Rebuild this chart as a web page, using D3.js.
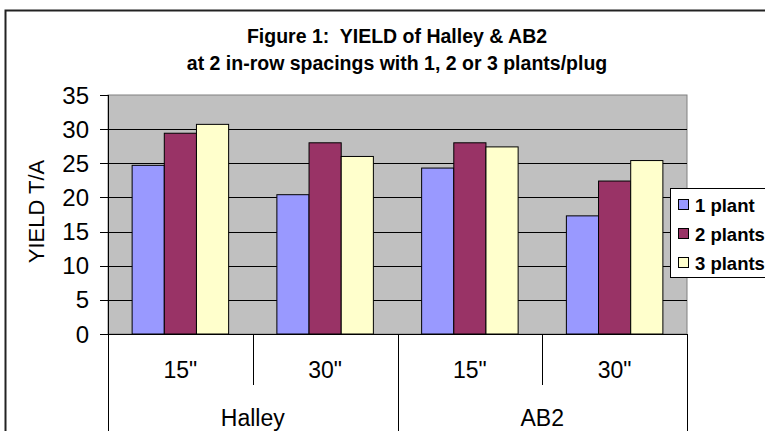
<!DOCTYPE html>
<html>
<head>
  <meta charset="utf-8">
  <title>Figure 1: YIELD of Halley & AB2</title>
  <script src="https://cdn.jsdelivr.net/npm/d3@7"></script>
  <style type="text/css">
  html, body {
    margin: 0;
    padding: 0;
    background-color: #fff;
  }
  svg text {
    font-family: "Liberation Sans", Arial, sans-serif;
    fill: #000;
  }
  .title {
    font-size: 19.5px;
    font-weight: bold;
    text-anchor: middle;
  }
  .plotarea {
    fill: #c0c0c0;
    stroke: #808080;
    stroke-width: 1px;
  }
  .grid {
    stroke: #000;
    stroke-width: 1px;
  }
  .axisline {
    stroke: #000;
    stroke-width: 1px;
  }
  .bar {
    stroke: #000;
    stroke-width: 1px;
  }
  .tick-label {
    font-size: 24px;
    text-anchor: end;
  }
  .cat-label {
    font-size: 23px;
    text-anchor: middle;
  }
  .legend-label {
    font-size: 18.5px;
    font-weight: bold;
  }
  </style>
</head>

<body>
  <div id='chart'></div>
</body>

<script>
var width = 765,
    height = 431;

// chart data
var groups = ["Halley", "AB2"];
var spacings = ['15"', '30"'];
var series = ["1 plant", "2 plants", "3 plants"];
var plant1 = [24.7, 20.4, 24.3, 17.3];
var plant2 = [29.4, 28.0, 28.0, 22.4];
var plant3 = [30.7, 26.0, 27.4, 25.4];
var yTicks = [0, 5, 10, 15, 20, 25, 30, 35];
var colors = ["#9999ff", "#993366", "#ffffcc"];

var values = [plant1, plant2, plant3];

// one entry per bar cluster: group x spacing
var cats = [];
groups.forEach(function(g) {
  spacings.forEach(function(s) {
    cats.push({group: g, spacing: s, key: g + "|" + s});
  });
});

var plot = {left: 108, right: 687, top: 95, bottom: 334};

var svg = d3.select("#chart").append("svg")
            .attr("width", width)
            .attr("height", height);

// outer frame of the chart object (runs off the right and bottom)
svg.append("rect")
   .attr("x", 5.5)
   .attr("y", 10.5)
   .attr("width", 900)
   .attr("height", 600)
   .attr("fill", "#fff")
   .attr("stroke", "#222")
   .attr("stroke-width", 2);

svg.append("text")
   .attr("class", "title")
   .attr("x", 397)
   .attr("y", 43)
   .text("Figure 1:\u00a0 YIELD of Halley & AB2");

svg.append("text")
   .attr("class", "title")
   .attr("x", 397)
   .attr("y", 70)
   .text("at 2 in-row spacings with 1, 2 or 3 plants/plug");

var x = d3.scaleBand()
          .domain(cats.map(function(d) { return d.key; }))
          .range([plot.left, plot.right])
          .paddingInner(0)
          .paddingOuter(0);

var xs = d3.scaleBand()
           .domain(series)
           .range([0, x.bandwidth()])
           .paddingInner(0)
           .paddingOuter(0.75);

var y = d3.scaleLinear()
          .domain([0, 35])
          .range([plot.bottom, plot.top]);

svg.append("rect")
   .attr("class", "plotarea")
   .attr("x", plot.left)
   .attr("y", y(35))
   .attr("width", plot.right - plot.left)
   .attr("height", y(0) - y(35));

// gridlines (top one is the plot border)
svg.append("g").selectAll("line")
   .data(yTicks.filter(function(t) { return t > 0 && t < 35; }))
   .enter().append("line")
   .attr("class", "grid")
   .attr("x1", plot.left)
   .attr("x2", plot.right)
   .attr("y1", function(d) { return Math.round(y(d)) + 0.5; })
   .attr("y2", function(d) { return Math.round(y(d)) + 0.5; });

// bars
var clusters = svg.append("g").selectAll("g")
   .data(cats)
   .enter().append("g")
   .attr("transform", function(d) { return "translate(" + x(d.key) + ",0)"; });

clusters.selectAll("rect")
   .data(function(d, i) {
     return series.map(function(s, j) {
       return {series: s, value: values[j][i], color: colors[j]};
     });
   })
   .enter().append("rect")
   .attr("class", "bar")
   .attr("x", function(d) { return xs(d.series); })
   .attr("y", function(d) { return y(d.value); })
   .attr("width", xs.bandwidth())
   .attr("height", function(d) { return y(0) - y(d.value); })
   .attr("fill", function(d) { return d.color; });

// value axis
var yAxis = svg.append("g");
yAxis.append("line")
     .attr("class", "axisline")
     .attr("x1", plot.left + 0.5)
     .attr("x2", plot.left + 0.5)
     .attr("y1", plot.top)
     .attr("y2", height);
yAxis.selectAll(".tick")
     .data(yTicks)
     .enter().append("line")
     .attr("class", "axisline")
     .attr("x1", plot.left - 8)
     .attr("x2", plot.left)
     .attr("y1", function(d) { return Math.round(y(d)) + 0.5; })
     .attr("y2", function(d) { return Math.round(y(d)) + 0.5; });
yAxis.selectAll("text")
     .data(yTicks)
     .enter().append("text")
     .attr("class", "tick-label")
     .attr("x", 89)
     .attr("y", function(d) { return y(d); })
     .attr("dy", "0.36em")
     .text(function(d) { return d; });

svg.append("text")
   .attr("class", "cat-label")
   .attr("transform", "translate(44," + ((plot.top + plot.bottom) / 2 - 3) + ") rotate(-90)")
   .style("font-size", "22px")
   .text("YIELD T/A");

// category axis: spacing row then variety row
var catAxis = svg.append("g");
catAxis.append("line")
       .attr("class", "axisline")
       .attr("x1", plot.left - 8)
       .attr("x2", plot.right)
       .attr("y1", plot.bottom + 0.5)
       .attr("y2", plot.bottom + 0.5);

catAxis.selectAll(".sub-div")
       .data(cats.filter(function(d, i) { return i % 2 === 1; }))
       .enter().append("line")
       .attr("class", "axisline")
       .attr("x1", function(d) { return Math.round(x(d.key)) + 0.5; })
       .attr("x2", function(d) { return Math.round(x(d.key)) + 0.5; })
       .attr("y1", plot.bottom)
       .attr("y2", 385);

var groupEdges = [plot.left].concat(groups.map(function(g, i) {
  return x(cats[i * 2 + 1].key) + x.bandwidth();
}));
catAxis.selectAll(".grp-div")
       .data(groupEdges.slice(1))
       .enter().append("line")
       .attr("class", "axisline")
       .attr("x1", function(d) { return Math.round(d) + 0.5; })
       .attr("x2", function(d) { return Math.round(d) + 0.5; })
       .attr("y1", plot.bottom)
       .attr("y2", height);

catAxis.selectAll(".sub-label")
       .data(cats)
       .enter().append("text")
       .attr("class", "cat-label")
       .attr("x", function(d) { return x(d.key) + x.bandwidth() / 2; })
       .attr("y", 378)
       .text(function(d) { return d.spacing; });

catAxis.selectAll(".grp-label")
       .data(groups)
       .enter().append("text")
       .attr("class", "cat-label")
       .attr("x", function(d, i) { return (groupEdges[i] + groupEdges[i + 1]) / 2; })
       .attr("y", 426)
       .text(function(d) { return d; });

// legend
var legend = svg.append("g")
                .attr("transform", "translate(670,188)");
legend.append("rect")
      .attr("x", 0.5)
      .attr("y", 0.5)
      .attr("width", 200)
      .attr("height", 89)
      .attr("fill", "#fff")
      .attr("stroke", "#000");

var items = legend.selectAll(".item")
                  .data(series)
                  .enter().append("g")
                  .attr("transform", function(d, i) { return "translate(0," + (17 + i * 29) + ")"; });
items.append("rect")
     .attr("x", 8.5)
     .attr("y", -5.5)
     .attr("width", 10)
     .attr("height", 10)
     .attr("stroke", "#000")
     .attr("fill", function(d, i) { return colors[i]; });
items.append("text")
     .attr("class", "legend-label")
     .attr("x", 25)
     .attr("y", 0)
     .attr("dy", "0.36em")
     .text(function(d) { return d; });
</script>
</html>
